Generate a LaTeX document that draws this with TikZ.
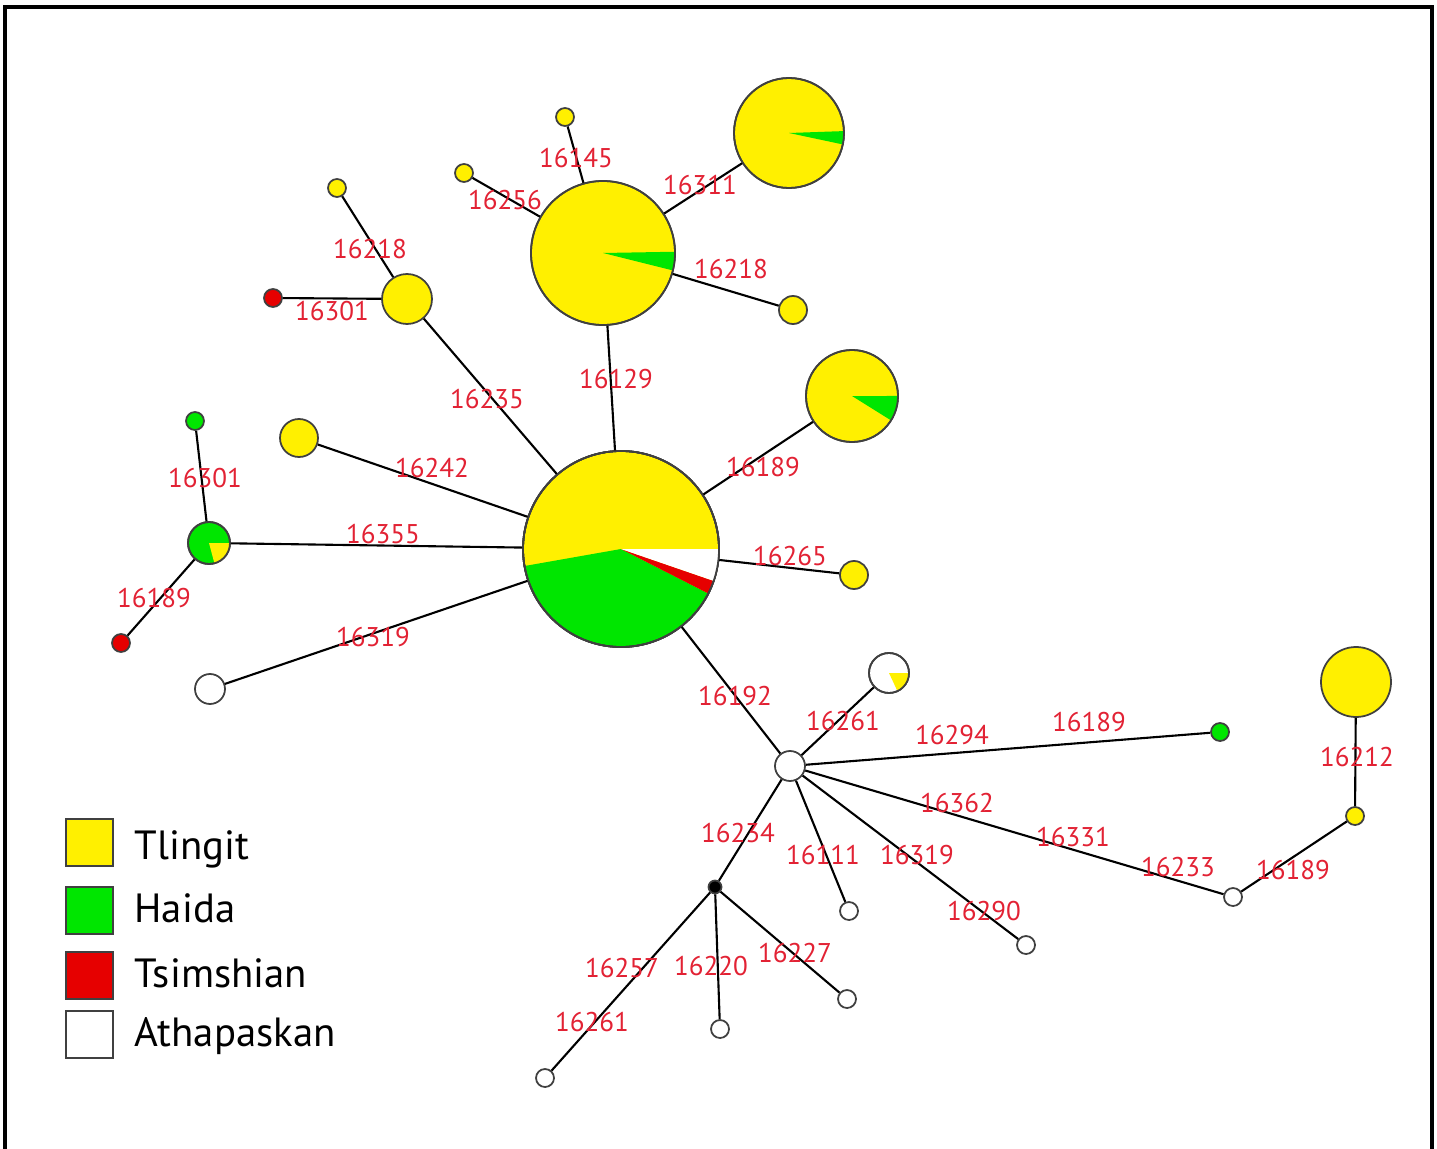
\documentclass[tikz,border=0pt]{standalone}
\usepackage{fontspec}
\setmainfont{PT Sans}
\usetikzlibrary{positioning}
\definecolor{tyellow}{RGB}{255,240,0}
\definecolor{hgreen}{RGB}{0,230,0}
\definecolor{tred}{RGB}{230,0,0}
\definecolor{labred}{RGB}{226,34,52}
\tikzset{
  hap/.style={circle, draw=black!75, line width=0.5pt, inner sep=0pt, minimum size=#1},
  tli/.style={hap=#1, fill=tyellow},
  hai/.style={hap=#1, fill=hgreen},
  tsi/.style={hap=#1, fill=tred},
  ath/.style={hap=#1, fill=white},
  anc/.style={hap=#1, fill=black},
  rim/.style={draw=black!75, line width=0.5pt},
  lnk/.style={line width=0.6pt},
  mut/.style={text=labred, font=\fontsize{7.7}{9}\selectfont, inner sep=0pt},
  key/.style={draw=black!75, line width=0.5pt, minimum size=0.47cm, inner sep=0pt},
  keytext/.style={font=\fontsize{11.6}{14}\selectfont, inner sep=0pt, text height=0.7em, text depth=0pt}
}
% node, radius, from, to, colour
\newcommand{\pieslice}[5]{%
  \fill[#5] (#1.center) -- ++(#3:#2) arc[start angle=#3, end angle=#4, radius=#2] -- cycle;
  \draw[rim] (#1.center) circle[radius=#2];}

\begin{document}
\begin{tikzpicture}
  \useasboundingbox (0,0) rectangle (14.37,-11.49);
  % frame
  \draw[line width=0.9pt] (0.05,-11.49) -- (0.05,-0.07) -- (14.32,-0.07) -- (14.32,-11.49);
  % central haplotype and upper cluster
  \node[tli=1.96cm] (C) at(6.21,-5.49){};
  \node[tli=1.44cm] (T1) at(6.03,-2.53){};
  \node[tli=1.10cm] (T2) at(7.89,-1.33){};
  \node[tli=0.92cm] (T3) at(8.52,-3.96){};
  \node[tli=0.18cm] (Ya) at(5.65,-1.17){};
  \node[tli=0.18cm] (Yb) at(4.64,-1.73){};
  \node[tli=0.18cm] (Yc) at(3.37,-1.88){};
  \node[tli=0.50cm] (Yd) at(4.07,-2.99){};
  \node[tsi=0.18cm] (Ra) at(2.73,-2.98){};
  \node[tli=0.28cm] (Ye) at(7.93,-3.10){};
  \node[tli=0.38cm] (Yf) at(2.99,-4.38){};
  \node[tli=0.28cm] (Yg) at(8.54,-5.75){};
  % left cluster
  \node[hai=0.18cm] (Ga) at(1.95,-4.21){};
  \node[hai=0.42cm] (Hd) at(2.09,-5.43){};
  \node[tsi=0.18cm] (Rb) at(1.21,-6.43){};
  \node[ath=0.30cm] (Wa) at(2.10,-6.89){};
  % lower cluster
  \node[ath=0.30cm] (Hub) at(7.90,-7.66){};
  \node[ath=0.40cm] (WY) at(8.89,-6.73){};
  \node[hai=0.18cm] (Gb) at(12.20,-7.32){};
  \node[tli=0.70cm] (Yh) at(13.56,-6.82){};
  \node[tli=0.18cm] (Yi) at(13.55,-8.16){};
  \node[ath=0.18cm] (Wb) at(12.33,-8.97){};
  \node[ath=0.18cm] (Wc) at(10.26,-9.45){};
  \node[ath=0.18cm] (Wd) at(8.49,-9.11){};
  \node[anc=0.13cm] (Bk) at(7.15,-8.87){};
  \node[ath=0.18cm] (We) at(8.47,-9.99){};
  \node[ath=0.18cm] (Wf) at(7.20,-10.29){};
  \node[ath=0.18cm] (Wg) at(5.45,-10.78){};
  % pie slices
  \pieslice{C}{0.98}{190}{333}{hgreen}
  \pieslice{C}{0.98}{333}{341}{tred}
  \pieslice{C}{0.98}{341}{360}{white}
  \pieslice{T1}{0.72}{-14}{1}{hgreen}
  \pieslice{T2}{0.55}{-12}{2}{hgreen}
  \pieslice{T3}{0.46}{-32}{0}{hgreen}
  \pieslice{Hd}{0.21}{-75}{0}{tyellow}
  \pieslice{WY}{0.20}{-65}{0}{tyellow}
  % links
  \draw[lnk] (C) -- (T1);
  \draw[lnk] (C) -- (Yd);
  \draw[lnk] (C) -- (Yf);
  \draw[lnk] (C) -- (T3);
  \draw[lnk] (C) -- (Hd);
  \draw[lnk] (C) -- (Yg);
  \draw[lnk] (C) -- (Wa);
  \draw[lnk] (C) -- (Hub);
  \draw[lnk] (T1) -- (Ya);
  \draw[lnk] (T1) -- (Yb);
  \draw[lnk] (T1) -- (T2);
  \draw[lnk] (T1) -- (Ye);
  \draw[lnk] (Yd) -- (Yc);
  \draw[lnk] (Yd) -- (Ra);
  \draw[lnk] (Hd) -- (Ga);
  \draw[lnk] (Hd) -- (Rb);
  \draw[lnk] (Hub) -- (WY);
  \draw[lnk] (Hub) -- (Gb);
  \draw[lnk] (Hub) -- (Wb);
  \draw[lnk] (Wb) -- (Yi);
  \draw[lnk] (Yi) -- (Yh);
  \draw[lnk] (Hub) -- (Wc);
  \draw[lnk] (Hub) -- (Wd);
  \draw[lnk] (Hub) -- (Bk);
  \draw[lnk] (Bk) -- (We);
  \draw[lnk] (Bk) -- (Wf);
  \draw[lnk] (Bk) -- (Wg);
  % mutations
  \node[mut] (mCT1) at(6.16,-3.79){16129};
  \node[mut] (mCYd) at(4.87,-3.99){16235};
  \node[mut] (mCYf) at(4.32,-4.68){16242};
  \node[mut] (mCT3) at(7.63,-4.67){16189};
  \node[mut] (mCHd) at(3.83,-5.34){16355};
  \node[mut] (mCYg) at(7.90,-5.56){16265};
  \node[mut] (mCWa) at(3.73,-6.37){16319};
  \node[mut] (mCHub) at(7.35,-6.96){16192};
  \node[mut] (mT1Ya) at(5.76,-1.58){16145};
  \node[mut] (mT1Yb) at(5.05,-2.00){16256};
  \node[mut] (mT1T2) at(7.00,-1.85){16311};
  \node[mut] (mT1Ye) at(7.31,-2.69){16218};
  \node[mut] (mYdYc) at(3.70,-2.49){16218};
  \node[mut] (mYdRa) at(3.32,-3.11){16301};
  \node[mut] (mHdGa) at(2.05,-4.78){16301};
  \node[mut] (mHdRb) at(1.54,-5.98){16189};
  \node[mut] (mHubWY) at(8.43,-7.21){16261};
  \node[mut] (mHubGb) at(9.52,-7.35){16294};
  \node[mut] (mHubGbb) at(10.89,-7.22){16189};
  \node[mut] (mHubWb) at(9.57,-8.03){16362};
  \node[mut] (mHubWbb) at(10.73,-8.37){16331};
  \node[mut] (mHubWbc) at(11.78,-8.67){16233};
  \node[mut] (mWbYi) at(12.93,-8.70){16189};
  \node[mut] (mYiYh) at(13.57,-7.57){16212};
  \node[mut] (mHubWc) at(9.17,-8.55){16319};
  \node[mut] (mHubWcb) at(9.84,-9.11){16290};
  \node[mut] (mHubWd) at(8.23,-8.55){16111};
  \node[mut] (mHubBk) at(7.38,-8.33){16234};
  \node[mut] (mBkWe) at(7.95,-9.53){16227};
  \node[mut] (mBkWf) at(7.11,-9.66){16220};
  \node[mut] (mBkWg) at(6.22,-9.68){16257};
  \node[mut] (mBkWgb) at(5.92,-10.22){16261};
  % legend
  \node[key, fill=tyellow] (kTli) at(0.895,-8.425){};
  \node[key, fill=hgreen] (kHai) at(0.895,-9.105){};
  \node[key, fill=tred] (kTsi) at(0.895,-9.755){};
  \node[key, fill=white] (kAth) at(0.895,-10.345){};
  \node[keytext, right=0.2cm of kTli, yshift=-0.05cm] (tTli){Tlingit};
  \node[keytext, right=0.2cm of kHai] (tHai){Haida};
  \node[keytext, right=0.2cm of kTsi] (tTsi){Tsimshian};
  \node[keytext, right=0.2cm of kAth] (tAth){Athapaskan};
\end{tikzpicture}
\end{document}
